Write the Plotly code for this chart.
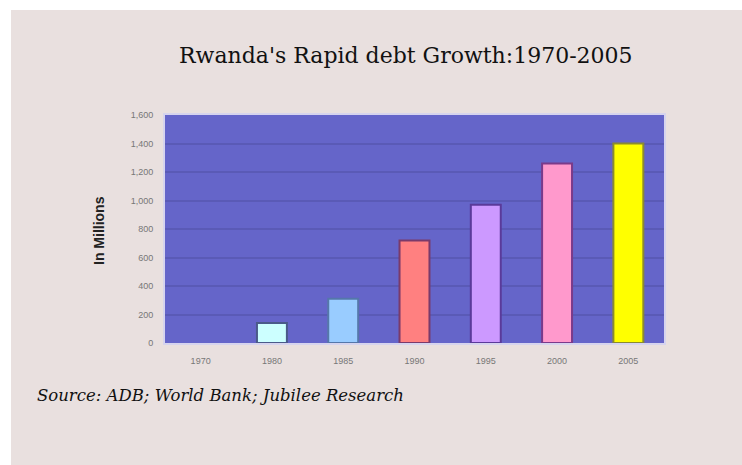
import plotly.graph_objects as go

# Rwanda external debt, millions of US$
years = ["1970", "1980", "1985", "1990", "1995", "2000", "2005"]
debt = [0, 140, 310, 720, 970, 1260, 1400]
fill_colors = ["#ccffff", "#ccffff", "#99ccff", "#ff8080", "#cc99ff", "#ff99cc", "#ffff00"]
edge_colors = ["#4a5a8a", "#4a5a8a", "#5577aa", "#7a3a6a", "#5a3a9a", "#7a3a8a", "#8a8a30"]
edge_widths = [0, 2, 2, 2, 2, 2, 2]
y_ticks = [0, 200, 400, 600, 800, 1000, 1200, 1400, 1600]

fig = go.Figure(
    go.Bar(
        x=years,
        y=debt,
        marker=dict(color=fill_colors, line=dict(color=edge_colors, width=edge_widths)),
        width=0.42,
        hoverinfo="x+y",
    )
)

W, H = 742, 465
L, R, T, B = 165, 78, 115, 122
pw, ph = W - L - R, H - T - B


def px_x(x):
    return (x - L) / pw


def px_y(y):
    return (H - B - y) / ph


fig.update_layout(
    width=W,
    height=H,
    margin=dict(l=L, r=R, t=T, b=B),
    paper_bgcolor="#e9e0df",
    plot_bgcolor="#6565c9",
    showlegend=False,
    shapes=[
        # white strips along the left and top edges of the page
        dict(type="rect", xref="paper", yref="paper", layer="above",
             x0=px_x(0), x1=px_x(11), y0=px_y(H), y1=px_y(0),
             fillcolor="#ffffff", line=dict(width=0)),
        dict(type="rect", xref="paper", yref="paper", layer="above",
             x0=px_x(0), x1=px_x(W), y0=px_y(10), y1=px_y(0),
             fillcolor="#ffffff", line=dict(width=0)),
    ],
    annotations=[
        dict(
            text="Rwanda's Rapid debt Growth:1970-2005",
            xref="paper", yref="paper", x=px_x(406), y=px_y(56),
            xanchor="center", yanchor="middle", showarrow=False,
            font=dict(family="DejaVu Serif", size=22, color="#111111"),
        ),
        dict(
            text="<i>Source: ADB; World Bank; Jubilee Research</i>",
            xref="paper", yref="paper", x=px_x(35), y=px_y(395),
            xanchor="left", yanchor="middle", showarrow=False,
            font=dict(family="DejaVu Serif", size=16.5, color="#111111"),
        ),
        dict(
            text="<b>In Millions</b>",
            xref="paper", yref="paper", x=px_x(99), y=px_y(231),
            xanchor="center", yanchor="middle", showarrow=False, textangle=-90,
            font=dict(family="Liberation Sans", size=14, color="#222222"),
        ),
    ],
)

fig.update_xaxes(
    type="category",
    showline=True, mirror=True, linecolor="#d6d4ee", linewidth=2,
    ticks="", tickfont=dict(family="Liberation Sans", size=9, color="#777777"),
    ticklabelstandoff=8,
    showgrid=False,
)
fig.update_yaxes(
    range=[0, 1600],
    tickvals=y_ticks,
    ticktext=[f"{v:,}" for v in y_ticks],
    showline=True, mirror=True, linecolor="#d6d4ee", linewidth=2,
    ticks="", tickfont=dict(family="Liberation Sans", size=9, color="#777777"),
    ticklabelstandoff=8,
    gridcolor="#5a5ab6", gridwidth=2,
    zeroline=False,
)

fig.write_html("out.html")
